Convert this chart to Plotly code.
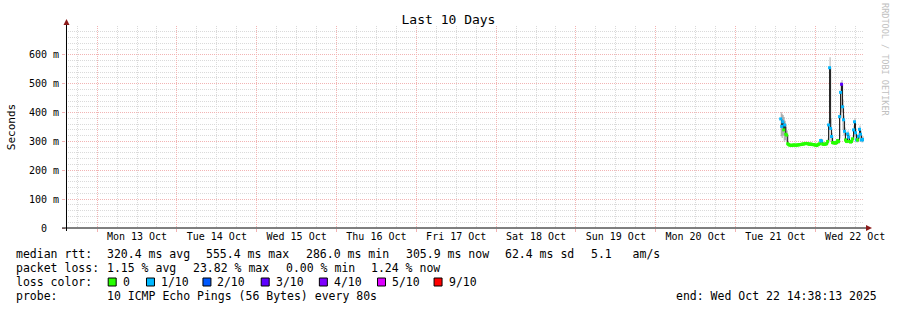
import pandas as pd
import plotly.graph_objects as go

# ---------------- data ----------------
END = pd.Timestamp("2025-10-22 14:38:13")
START = END - pd.Timedelta(days=10)
STEP = pd.Timedelta(minutes=18)

median_ms = [378, 352, 368, 340, 357, 325, 322, 292, 289, 287,
             287, 286, 287, 288, 287, 287, 287, 288, 288, 289,
             289, 290, 291, 291, 292, 293, 293, 292, 291, 290,
             291, 290, 289, 289, 288, 287, 286, 288, 290, 292,
             303, 301, 291, 290, 290, 291, 292, 300, 357, 555.4,
             345, 317, 296, 295, 295, 294, 296, 303, 300, 386,
             470, 498, 420, 375, 335, 305, 300, 326, 315, 300,
             298, 300, 309, 340, 368, 330, 305, 305, 318, 342,
             325, 305, 307, 305.9]
loss_pings = [1, 1, 1, 0, 1, 0, 0, 0, 0, 0,
              0, 0, 0, 0, 0, 0, 0, 0, 0, 0,
              0, 0, 0, 0, 0, 0, 0, 0, 0, 0,
              0, 0, 0, 0, 0, 0, 0, 0, 0, 0,
              1, 1, 0, 0, 0, 0, 0, 0, 1, 1,
              1, 1, 0, 0, 0, 0, 0, 0, 0, 1,
              1, 3, 1, 1, 1, 0, 0, 1, 1, 0,
              0, 0, 0, 1, 1, 1, 1, 0, 1, 1,
              1, 1, 1, 1]
smoke_lo_ms = [318, 312, 320, 300, 305, 300, 296, 287, 286, 285,
               285, 285, 285, 286, 285, 285, 285, 286, 286, 286,
               287, 287, 288, 288, 289, 290, 290, 289, 288, 287,
               288, 287, 286, 286, 286, 285, 285, 286, 287, 288,
               292, 290, 287, 287, 287, 287, 288, 290, 300, 420,
               300, 298, 290, 290, 290, 289, 290, 293, 292, 310,
               380, 400, 340, 320, 305, 296, 294, 300, 298, 294,
               293, 294, 298, 305, 318, 302, 296, 297, 300, 308,
               302, 296, 297, 297]
smoke_hi_ms = [402, 396, 392, 385, 372, 350, 338, 300, 294, 291,
               290, 289, 290, 291, 290, 290, 290, 291, 291, 292,
               292, 293, 294, 294, 295, 297, 297, 296, 295, 294,
               295, 294, 293, 293, 292, 291, 290, 292, 294, 297,
               310, 308, 296, 295, 295, 296, 297, 310, 372, 592,
               380, 330, 302, 300, 300, 299, 301, 309, 306, 400,
               505, 513, 445, 390, 348, 312, 306, 338, 328, 306,
               304, 306, 318, 355, 380, 345, 315, 314, 330, 355,
               338, 316, 318, 316]

loss_colors = {0: "#26ff00", 1: "#00b8ff", 2: "#0059ff", 3: "#5e00ff",
               4: "#7e00ff", 5: "#dd00ff", 9: "#ff0000"}
loss_legend = [(0, "0"), (1, "1/10"), (2, "2/10"), (3, "3/10"),
               (4, "4/10"), (5, "5/10"), (9, "9/10")]

day_labels = ["Mon 13 Oct", "Tue 14 Oct", "Wed 15 Oct", "Thu 16 Oct", "Fri 17 Oct",
              "Sat 18 Oct", "Sun 19 Oct", "Mon 20 Oct", "Tue 21 Oct", "Wed 22 Oct"]
day_noons = pd.date_range("2025-10-13 12:00", periods=len(day_labels), freq="D")

y_ticks_ms = [0, 100, 200, 300, 400, 500, 600]
y_ticktext = ["0\u00a0\u00a0", "100 m", "200 m", "300 m", "400 m", "500 m", "600 m"]

stats_line1 = ["320.4 ms avg", "555.4 ms max", "286.0 ms min", "305.9 ms now",
               "62.4 ms sd", "5.1\u00a0\u00a0\u00a0am/s"]
stats_line2 = ["1.15 % avg", "23.82 % max", "0.00 % min", "1.24 % now"]
probe_text = "10 ICMP Echo Pings (56 Bytes) every 80s"
end_text = "end: Wed Oct 22 14:38:13 2025"

times = pd.date_range(end=END - STEP / 2, periods=len(median_ms), freq=STEP)

# ---------------- figure ----------------
L, R, T, B = 66, 31, 26, 82
W, H = 897, 310
PW, PH = W - L - R, H - T - B


def px(x):
    return (x - L) / PW


def py(y):
    return (T + PH - y) / PH


fig = go.Figure()

# smoke
fig.add_trace(go.Scatter(x=times, y=smoke_lo_ms, mode="lines", line=dict(width=0, shape="hv"),
                         hoverinfo="skip"))
fig.add_trace(go.Scatter(x=times, y=smoke_hi_ms, mode="lines", line=dict(width=0, shape="hv"),
                         fill="tonexty", fillcolor="#b0b0b0", hoverinfo="skip"))
# median connecting line
fig.add_trace(go.Scatter(x=times, y=median_ms, mode="lines",
                         line=dict(color="#1a1a1a", width=1, shape="hv")))
# loss coloured median
fig.add_trace(go.Scatter(x=times, y=median_ms, mode="markers",
                         marker=dict(symbol="square", size=3,
                                     color=[loss_colors[v] for v in loss_pings],
                                     line=dict(width=0))))
# dummy trace for label axis
fig.add_trace(go.Scatter(x=[], y=[], xaxis="x2", yaxis="y"))

MAJ = "#f2b4b4"
MIN = "#dadada"
DASH = "1px,1px"

fig.update_layout(
    width=W, height=H, margin=dict(l=L, r=R, t=T, b=B),
    paper_bgcolor="white", plot_bgcolor="white", showlegend=False,
    font=dict(family="DejaVu Sans Mono", size=10, color="black"),
    title=dict(text="Last 10 Days", x=0.5, xref="container", xanchor="center",
               y=1 - 19 / H, yref="container", yanchor="middle",
               font=dict(family="DejaVu Sans Mono", size=13, color="black")),
    xaxis=dict(type="date", range=[START, END], tick0="2025-10-13", dtick=86400000,
               showgrid=True, gridcolor=MAJ, griddash=DASH, gridwidth=1,
               showticklabels=False, ticks="outside", ticklen=3, tickcolor=MAJ,
               showline=False, zeroline=False,
               minor=dict(tick0="2025-10-13", dtick=6 * 3600000, showgrid=True,
                          gridcolor=MIN, griddash=DASH, gridwidth=1, ticks="")),
    xaxis2=dict(type="date", overlaying="x", anchor="y", side="bottom",
                range=[START, END], tickmode="array", tickvals=list(day_noons),
                ticktext=day_labels, showgrid=False, ticks="", showline=False,
                zeroline=False, tickfont=dict(size=10), ticklabelstandoff=1),
    yaxis=dict(range=[0, 700], tickmode="array", tickvals=y_ticks_ms, ticktext=y_ticktext,
               showgrid=True, gridcolor=MAJ, griddash=DASH, gridwidth=1,
               ticks="outside", ticklen=3, tickcolor=MAJ, showline=False, zeroline=False,
               tickfont=dict(size=10), ticklabelstandoff=1,
               minor=dict(tickmode="linear", tick0=0, dtick=20, showgrid=True,
                          gridcolor=MIN, griddash=DASH, gridwidth=1, ticks="")),
)

shapes = []
# axes lines
shapes.append(dict(type="line", xref="paper", yref="paper", x0=px(62), x1=px(869),
                   y0=py(228), y1=py(228), line=dict(color="black", width=1), layer="above"))
shapes.append(dict(type="line", xref="paper", yref="paper", x0=px(66.5), x1=px(66.5),
                   y0=py(231), y1=py(24), line=dict(color="black", width=1), layer="above"))
# arrows
shapes.append(dict(type="path", xref="paper", yref="paper",
                   path=f"M {px(868)} {py(225)} L {px(868)} {py(231)} L {px(874)} {py(228)} Z",
                   fillcolor="#8b1a1a", line=dict(width=0), layer="above"))
shapes.append(dict(type="path", xref="paper", yref="paper",
                   path=f"M {px(63.5)} {py(25)} L {px(69.5)} {py(25)} L {px(66.5)} {py(19)} Z",
                   fillcolor="#8b1a1a", line=dict(width=0), layer="above"))

annotations = []
LF = dict(family="DejaVu Sans Mono", size=11.5, color="black")
PAD = 2.5


def note(text, x, y, **kw):
    d = dict(text=text, xref="paper", yref="paper", x=px(x - PAD), y=py(y), xanchor="left",
             yanchor="middle", showarrow=False, font=LF)
    d.update(kw)
    annotations.append(d)


# y-axis title
annotations.append(dict(text="Seconds", xref="paper", yref="paper", x=px(11), y=py(127),
                        xanchor="center", yanchor="middle", textangle=-90, showarrow=False,
                        font=dict(family="DejaVu Sans Mono", size=11, color="black")))
# watermark
annotations.append(dict(text="RRDTOOL / TOBI OETIKER", xref="paper", yref="paper",
                        x=px(887), y=py(60), xanchor="center", yanchor="middle",
                        textangle=90, showarrow=False,
                        font=dict(family="DejaVu Sans Mono", size=8.5, color="#c0c0c0")))

# legend lines
note("median rtt:", 16.7, 254)
for txt, x in zip(stats_line1, [107.3, 207.3, 307.3, 407.3, 507, 593]):
    note(txt, x, 254)
note("packet loss:", 16.7, 268)
for txt, x in zip(stats_line2, [107.3, 193.5, 286.6, 372.5]):
    note(txt, x, 268)
note("loss color:", 16.7, 282)
box_x = [108.3, 146.7, 203.3, 261.7, 320, 378.3, 435]
for (lv, lab), bx in zip(loss_legend, box_x):
    shapes.append(dict(type="rect", xref="paper", yref="paper", x0=px(bx), x1=px(bx + 8),
                       y0=py(286), y1=py(278), fillcolor=loss_colors[lv],
                       line=dict(color="black", width=1)))
    note(lab, bx + 15, 282)
note("probe:", 16.7, 296)
note(probe_text, 107.3, 296)
note(end_text, 678.3, 296)

fig.update_layout(shapes=shapes, annotations=annotations)
fig.write_html("out.html")
